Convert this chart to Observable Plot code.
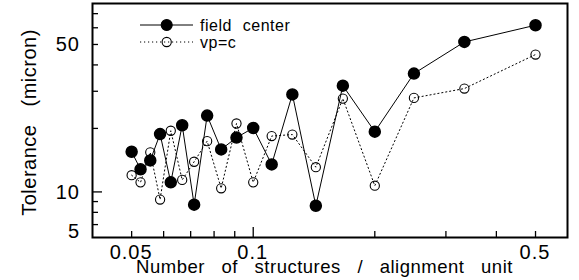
<!DOCTYPE html>
<html>
<head>
<meta charset="utf-8">
<script src="https://cdn.jsdelivr.net/npm/d3@7"></script>
<script src="https://cdn.jsdelivr.net/npm/@observablehq/plot@0.6"></script>
<style>
  body { margin: 0; background: white; }
</style>
</head>
<body>
<div id="chart"></div>
<script>
// ---- data ----
const structures = [0.05, 0.0526, 0.0556, 0.0588, 0.0625, 0.0667, 0.0714, 0.0769, 0.0833, 0.0909,
                    0.1, 0.1111, 0.125, 0.1429, 0.1667, 0.2, 0.25, 0.3333, 0.5];
const fieldCenter = [15.5, 12.8, 14.1, 18.8, 11.1, 20.7, 8.7, 23.0, 15.9, 18.1,
                     20.1, 13.5, 29.0, 8.6, 31.9, 19.3, 36.4, 51.4, 61.7];
const vpC = [12.0, 11.1, 15.4, 9.2, 19.5, 11.4, 13.9, 17.4, 10.4, 21.1,
             11.1, 18.4, 18.7, 13.1, 27.7, 10.7, 27.9, 30.9, 44.8];
const seriesNames = ["field center", "vp=c"];
const xTitle = "Number of structures / alignment unit";
const yTitle = "Tolerance (micron)";
const xLabelValues = [0.05, 0.1, 0.5];
const xLabelTexts = ["0.05", "0.1", "0.5"];
const yLabelValues = [6.5, 10, 50];
const yLabelTexts = ["5", "10", "50"];
const xTicksShort = [0.05, 0.06, 0.07, 0.08, 0.09, 0.2, 0.3, 0.4, 0.5];
const xTicksLong = [0.1];
const yTicksShort = [7, 8, 9, 20, 30, 40, 50, 60, 70];
const yTicksLong = [10];

const rows = structures.map((x, i) => ({x, field: fieldCenter[i], vpc: vpC[i]}));

const W = 579, H = 280, ML = 92, MR = 12, MT = 3, MB = 43;
const FW = W - ML - MR, FH = H - MT - MB;
const FONT = "'Liberation Sans', Arial, Helvetica, sans-serif";

function decorations(index, scales, values, dims) {
  const g = d3.create("svg:g")
    .attr("font-family", FONT)
    .attr("fill", "black")
    .attr("text-anchor", "start");
  const L = dims.marginLeft, T = dims.marginTop;
  const bottom = dims.height - dims.marginBottom;
  // tick labels (positioned by Plot's scales)
  xLabelValues.forEach((v, i) => {
    g.append("text")
      .attr("x", scales.x(v)).attr("y", bottom + 22)
      .attr("text-anchor", "middle")
      .attr("font-size", 20)
      .style("letter-spacing", "1px")
      .text(xLabelTexts[i]);
  });
  yLabelValues.forEach((v, i) => {
    g.append("text")
      .attr("x", L - 12).attr("y", scales.y(v)).attr("dy", "0.36em")
      .attr("text-anchor", "end")
      .attr("font-size", 20)
      .style("letter-spacing", "1px")
      .text(yLabelTexts[i]);
  });
  // legend
  const specs = [
    {name: seriesNames[0], dy: 22, dash: null, fill: "black", r: 5.5},
    {name: seriesNames[1], dy: 39, dash: "1.2,2.8", fill: "none", r: 4.6}
  ];
  for (const s of specs) {
    g.append("line")
      .attr("x1", L + 48).attr("x2", L + 101)
      .attr("y1", T + s.dy).attr("y2", T + s.dy)
      .attr("stroke", "black").attr("stroke-width", 1)
      .attr("stroke-dasharray", s.dash);
    g.append("circle")
      .attr("cx", L + 74.7).attr("cy", T + s.dy).attr("r", s.r)
      .attr("fill", s.fill).attr("stroke", "black").attr("stroke-width", 1.1);
    g.append("text")
      .attr("x", L + 108).attr("y", T + s.dy).attr("dy", "0.36em")
      .attr("font-size", 16)
      .style("letter-spacing", "0.5px").style("word-spacing", "6px")
      .text(s.name);
  }
  // x title
  g.append("text")
    .attr("x", 324.5).attr("y", 273)
    .attr("text-anchor", "middle")
    .attr("font-size", 18.5)
    .style("letter-spacing", "0.5px").style("word-spacing", "11px")
    .text(xTitle);
  // y title
  g.append("text")
    .attr("transform", "translate(36,122.5) rotate(-90)")
    .attr("text-anchor", "middle")
    .attr("font-size", 20)
    .style("letter-spacing", "0.5px").style("word-spacing", "12px")
    .text(yTitle);
  return g.node();
}

const chart = Plot.plot({
  width: W,
  height: H,
  marginLeft: ML,
  marginRight: MR,
  marginTop: MT,
  marginBottom: MB,
  style: {
    fontFamily: FONT,
    fontSize: "20px",
    color: "black",
    background: "white"
  },
  x: {type: "log", domain: [0.04, 0.6], axis: null},
  y: {type: "log", domain: [6.08, 78.2], axis: null},
  marks: [
    Plot.tickX(xTicksShort, {x: d => d, insetTop: FH - 6, stroke: "black", strokeWidth: 1.3}),
    Plot.tickX(xTicksLong, {x: d => d, insetTop: FH - 10, stroke: "black", strokeWidth: 1.3}),
    Plot.tickY(yTicksShort, {y: d => d, insetRight: FW - 6, stroke: "black", strokeWidth: 1.3}),
    Plot.tickY(yTicksLong, {y: d => d, insetRight: FW - 10, stroke: "black", strokeWidth: 1.3}),
    Plot.frame({stroke: "black", strokeWidth: 2}),
    Plot.line(rows, {x: "x", y: "vpc", stroke: "black", strokeWidth: 1, strokeDasharray: "1.2,2.8"}),
    Plot.line(rows, {x: "x", y: "field", stroke: "black", strokeWidth: 1}),
    Plot.dot(rows, {x: "x", y: "vpc", r: 4.6, fill: "none", stroke: "black", strokeWidth: 1.1}),
    Plot.dot(rows, {x: "x", y: "field", r: 5.5, fill: "black", stroke: "black"}),
    decorations
  ]
});
document.getElementById("chart").append(chart);
</script>
</body>
</html>
